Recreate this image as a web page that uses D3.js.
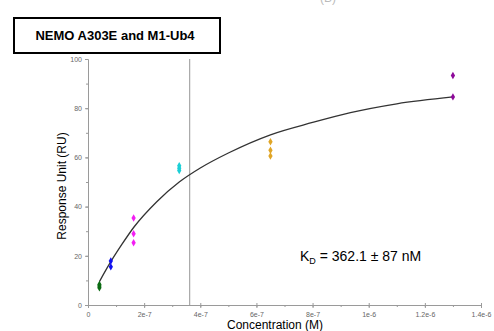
<!DOCTYPE html>
<html>
<head>
<meta charset="utf-8">
<script src="https://cdn.jsdelivr.net/npm/d3@7"></script>
<style>
  body { margin: 0; background: #fff; }
  text { font-family: "Liberation Sans", Arial, sans-serif; }
</style>
</head>
<body>
<svg id="chart" width="494" height="331"></svg>
<script>
// measured responses, grouped by injected concentration (M)
const concentrations = [4.0625e-8, 8.125e-8, 1.625e-7, 3.25e-7, 6.5e-7, 1.3e-6];
const responses = [
  [7.0, 7.7, 8.3],
  [15.5, 17.9],
  [25.3, 29.0, 35.4],
  [54.7, 55.6, 56.6],
  [60.6, 62.9, 66.4],
  [84.6, 93.3]
];
const pointColors = ['#0b6b12', '#1010f0', '#f21ef2', '#1ccfd6', '#e0a526', '#8e0a9a'];

// fitted curve
const fitConc = [4.06e-8, 8.125e-8, 1.2e-7, 1.625e-7, 2.45e-7, 3.25e-7, 4.0e-7, 5.0e-7, 6.5e-7, 8.0e-7, 9.35e-7, 1.1e-6, 1.3e-6];
const fitRU = [9.5, 17.6, 24.5, 31.5, 42.0, 50.0, 55.7, 61.8, 69.2, 74.2, 78.2, 81.8, 84.6];

const kd = 3.621e-7;
const xTicks = [0, 2e-7, 4e-7, 6e-7, 8e-7, 1e-6, 1.2e-6, 1.4e-6];
const xTickLabels = ['0', '2e-7', '4e-7', '6e-7', '8e-7', '1e-6', '1.2e-6', '1.4e-6'];
const yTicks = [0, 20, 40, 60, 80, 100];

const svg = d3.select('#chart');
const x = d3.scaleLinear().domain([0, 1.4e-6]).range([88, 481]);
const y = d3.scaleLinear().domain([0, 100]).range([305, 59]);
const axisColor = '#9a9a9a';

// faint panel letter cut off at the top
svg.append('text')
  .attr('x', 328).attr('y', 2)
  .attr('text-anchor', 'middle')
  .attr('font-size', 12)
  .attr('fill', '#bbb')
  .text('(B)');

// title box
svg.append('rect')
  .attr('x', 14).attr('y', 18)
  .attr('width', 206).attr('height', 35)
  .attr('fill', '#fff')
  .attr('stroke', '#000')
  .attr('stroke-width', 2);
svg.append('text')
  .attr('x', 115).attr('y', 40)
  .attr('text-anchor', 'middle')
  .attr('font-size', 13)
  .attr('font-weight', 'bold')
  .text('NEMO A303E and M1-Ub4');

// x axis
const xAxis = svg.append('g').attr('transform', 'translate(0,305)');
xAxis.call(d3.axisBottom(x).tickValues(d3.range(0, 1.41e-6, 1e-7)).tickSize(2).tickFormat(''));
xAxis.call(g => g.selectAll('.domain').attr('stroke', axisColor));
xAxis.call(g => g.selectAll('.tick line').attr('stroke', axisColor));
const xMajor = svg.append('g').attr('transform', 'translate(0,305)');
xMajor.call(d3.axisBottom(x).tickValues(xTicks).tickSize(3)
  .tickFormat((d, i) => xTickLabels[i]));
xMajor.call(g => g.select('.domain').remove());
xMajor.call(g => g.selectAll('.tick line').attr('stroke', axisColor).attr('y1', -2));
xMajor.call(g => g.selectAll('.tick text').attr('fill', '#666').attr('font-size', 7)
  .attr('font-family', '"Liberation Sans", Arial, sans-serif').attr('dy', '0.9em'));

// y axis
const yAxis = svg.append('g').attr('transform', 'translate(88,0)');
yAxis.call(d3.axisLeft(y).tickValues(d3.range(0, 101, 10)).tickSize(2).tickFormat(''));
yAxis.call(g => g.selectAll('.domain').attr('stroke', axisColor));
yAxis.call(g => g.selectAll('.tick line').attr('stroke', axisColor));
const yMajor = svg.append('g').attr('transform', 'translate(88,0)');
yMajor.call(d3.axisLeft(y).tickValues(yTicks).tickSize(3).tickPadding(3));
yMajor.call(g => g.select('.domain').remove());
yMajor.call(g => g.selectAll('.tick line').attr('stroke', axisColor));
yMajor.call(g => g.selectAll('.tick text').attr('fill', '#666').attr('font-size', 7)
  .attr('font-family', '"Liberation Sans", Arial, sans-serif'));

// axis titles
svg.append('text')
  .attr('transform', 'translate(66,186) rotate(-90)')
  .attr('text-anchor', 'middle')
  .attr('font-size', 12)
  .text('Response Unit (RU)');
svg.append('text')
  .attr('x', 275).attr('y', 329)
  .attr('text-anchor', 'middle')
  .attr('font-size', 12)
  .text('Concentration (M)');

// KD marker line
svg.append('line')
  .attr('x1', x(kd)).attr('x2', x(kd))
  .attr('y1', y(100)).attr('y2', y(0))
  .attr('stroke', '#a8a8a8')
  .attr('stroke-width', 1.2);

// fit curve
const line = d3.line()
  .x(d => x(d[0]))
  .y(d => y(d[1]))
  .curve(d3.curveMonotoneX);
svg.append('path')
  .datum(fitConc.map((c, i) => [c, fitRU[i]]))
  .attr('d', line)
  .attr('fill', 'none')
  .attr('stroke', '#333')
  .attr('stroke-width', 1.3);

// data points
const pts = [];
concentrations.forEach((c, i) => {
  responses[i].forEach(r => pts.push({ c: c, r: r, color: pointColors[i] }));
});
svg.append('g')
  .selectAll('path')
  .data(pts)
  .join('path')
  .attr('transform', d => `translate(${x(d.c)},${y(d.r)})`)
  .attr('d', d3.symbol().type(d3.symbolDiamond).size(16))
  .attr('fill', d => d.color);

// KD label
const kdText = svg.append('text')
  .attr('x', 300).attr('y', 261)
  .attr('font-size', 14);
kdText.append('tspan').text('K');
kdText.append('tspan').attr('font-size', 9).attr('dy', 3).text('D');
kdText.append('tspan').attr('dy', -3).text(' = 362.1 \u00b1 87 nM');
</script>
</body>
</html>
